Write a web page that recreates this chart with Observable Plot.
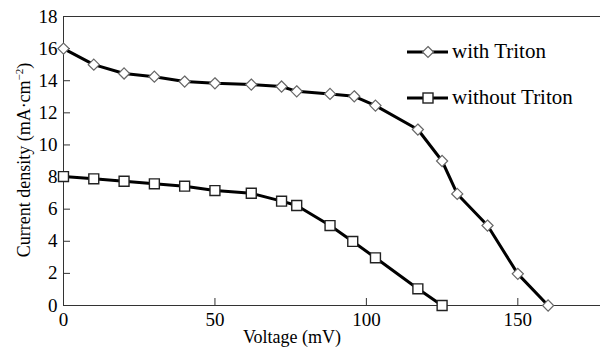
<!DOCTYPE html>
<html><head><meta charset="utf-8">
<style>
body{margin:0;background:#fff;font-family:'Liberation Serif';}
#wrap{position:relative;width:600px;height:352px;overflow:hidden;color:#000;}
#wrap svg{display:block;}
.xlab{position:absolute;left:292px;top:327px;transform:translateX(-50%);font-size:18px;white-space:nowrap;}
.ylab{position:absolute;left:24px;top:160px;transform:translate(-50%,-50%) rotate(-90deg);font-size:18px;white-space:nowrap;}
.ylab sup{font-size:11px;}
.legend{position:absolute;left:405px;top:40px;font-size:21px;}
.legend .row{display:flex;align-items:center;height:23px;margin-bottom:23px;}
.legend svg{margin-right:4px;}
</style>
<script src="https://cdn.jsdelivr.net/npm/d3@7"></script>
<script src="https://cdn.jsdelivr.net/npm/@observablehq/plot@0.6"></script>
</head><body><div id="wrap" style="font-family:'Liberation Serif'"></div>
<script>
const voltageWith = [0,10,20,30,40,50,62,72,77,88,96,103,117,125,130,140,150,160];
const currentWith = [16.0,15.0,14.45,14.25,13.95,13.84,13.76,13.64,13.34,13.18,13.03,12.45,10.96,9.0,6.95,4.98,1.97,0];
const voltageWithout = [0,10,20,30,40,50,62,72,77,88,95.5,103,117,125];
const currentWithout = [8.03,7.89,7.74,7.58,7.43,7.16,6.99,6.5,6.23,4.98,3.99,2.97,1.04,0];
const xTicks = [0,50,100,150];
const yTicks = [0,2,4,6,8,10,12,14,16,18];
const seriesNames = ["with Triton","without Triton"];

const withData = voltageWith.map((v,i)=>({v, c: currentWith[i]}));
const withoutData = voltageWithout.map((v,i)=>({v, c: currentWithout[i]}));
const serif = "Liberation Serif";

const chart = Plot.plot({
  width: 600, height: 352,
  marginLeft: 63, marginRight: 0, marginTop: 16, marginBottom: 47,
  style: {fontFamily: serif, fontSize: "19px", color: "#000", background: "#fff", overflow: "visible"},
  x: {domain: [0,177.3], ticks: xTicks},
  y: {domain: [0,18], ticks: yTicks},
  marks: [
    Plot.ruleY([18], {stroke: "#333", strokeWidth: 1}),
    Plot.ruleY([0], {stroke: "#333", strokeWidth: 1}),
    Plot.ruleX([0], {stroke: "#333", strokeWidth: 1}),
    Plot.axisX({ticks: xTicks, tickSize: -7, tickPadding: 14, label: null, stroke: "#333", fontFamily: serif}),
    Plot.axisY({ticks: yTicks, tickSize: -7, tickPadding: 13, label: null, stroke: "#333", fontFamily: serif}),
    Plot.line(withData, {x: "v", y: "c", stroke: "#000", strokeWidth: 3}),
    Plot.line(withoutData, {x: "v", y: "c", stroke: "#000", strokeWidth: 3}),
    Plot.dot(withData, {x: "v", y: "c", symbol: "diamond2", r: 5, fill: "#fff", stroke: "#666", strokeWidth: 1.2}),
    Plot.dot(withoutData, {x: "v", y: "c", symbol: "square", r: 5.6, fill: "#fff", stroke: "#222", strokeWidth: 1.4})
  ]
});
const wrap = document.getElementById("wrap");
wrap.appendChild(chart);

const xl = document.createElement("div"); xl.className = "xlab"; xl.style.fontFamily = serif; xl.textContent = "Voltage (mV)"; wrap.appendChild(xl);
const yl = document.createElement("div"); yl.className = "ylab"; yl.style.fontFamily = serif; yl.innerHTML = "Current density (mA·cm<sup>−2</sup>)"; wrap.appendChild(yl);

const lg = document.createElement("div"); lg.className = "legend"; lg.style.fontFamily = serif;
const sym = [
  '<svg width="43" height="14"><line x1="2" y1="7" x2="43" y2="7" stroke="#000" stroke-width="3"/><path d="M23,1.5 L28.5,7 L23,12.5 L17.5,7Z" fill="#fff" stroke="#666" stroke-width="1.2"/></svg>',
  '<svg width="43" height="14"><line x1="2" y1="7" x2="43" y2="7" stroke="#000" stroke-width="3"/><rect x="18" y="2" width="10" height="10" fill="#fff" stroke="#222" stroke-width="1.4"/></svg>'
];
seriesNames.forEach((n,i)=>{
  const r = document.createElement("div"); r.className = "row";
  r.innerHTML = sym[i] + "<span>" + n + "</span>";
  lg.appendChild(r);
});
wrap.appendChild(lg);
</script></body></html>
